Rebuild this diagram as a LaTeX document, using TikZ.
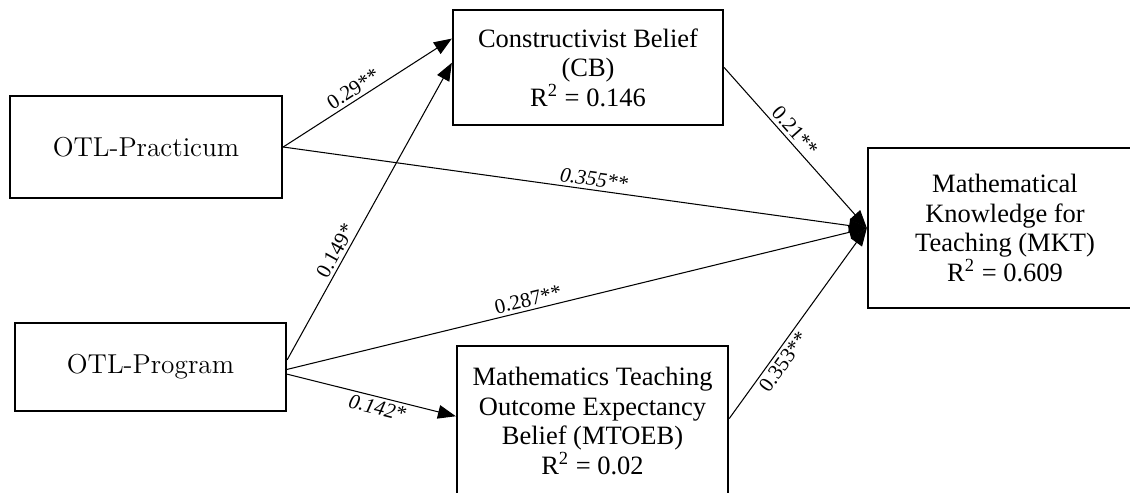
\documentclass[tikz,border=0pt]{standalone}
\usepackage{fontspec}
\newfontfamily\tnr{Liberation Serif}
\usetikzlibrary{arrows.meta}

\begin{document}
\begin{tikzpicture}[x=0.476pt,y=-0.476pt,
  box/.style={draw,line width=1.1pt,inner sep=0pt,align=center,font=\tnr\fontsize{12.6}{14}\selectfont},
  otl/.style={box,font=\fontsize{13}{15}\selectfont},
  link/.style={-{Triangle[length=8.5pt,width=6.5pt]},line width=.5pt},
  coef/.style={font=\tnr\fontsize{10}{12}\selectfont,sloped,inner sep=1.5pt}]
\useasboundingbox (0,0) rectangle (1130,492);
\node[otl,minimum width=129.5pt,minimum height=48.6pt] (prac) at (146,147) {OTL-Practicum};
\node[otl,minimum width=129pt,minimum height=41.9pt] (prog) at (150.5,367) {OTL-Program};
\node[box,minimum width=128.5pt,minimum height=54.7pt] (cb) at (588,67.5) {Constructivist Belief\\(CB)\\R\textsuperscript{2} = 0.146};
\node[box,minimum width=130.4pt,minimum height=76.2pt] (mkt) at (1005,228) {Mathematical\\Knowledge for\\Teaching (MKT)\\R\textsuperscript{2} = 0.609};
\node[box,minimum width=129pt,minimum height=71.4pt] (mtoeb) at (592.5,421) {Mathematics Teaching\\Outcome Expectancy\\Belief (MTOEB)\\R\textsuperscript{2} = 0.02};
\draw[link] (prac.east) -- node[coef,above,pos=.45] {0.29**} (cb.168);
\draw[link] (prog.3) -- node[coef,above,pos=.35] {0.149*} (cb.178);
\draw[link] (prac.east) -- node[coef,above,pos=.53] {\itshape 0.355**} (mkt.west);
\draw[link] (prog.-1) -- node[coef,above,pos=.42] {0.287**} (mkt.west);
\draw[link] (prog.-3) -- node[coef,below,pos=.55] {\itshape 0.142*} (mtoeb.178);
\draw[link] (cb.east) -- node[coef,above,pos=.44] {0.21**} (mkt.west);
\draw[link] (mtoeb.1) -- node[coef,below,pos=.33] {0.353**} (mkt.west);
\end{tikzpicture}
\end{document}
